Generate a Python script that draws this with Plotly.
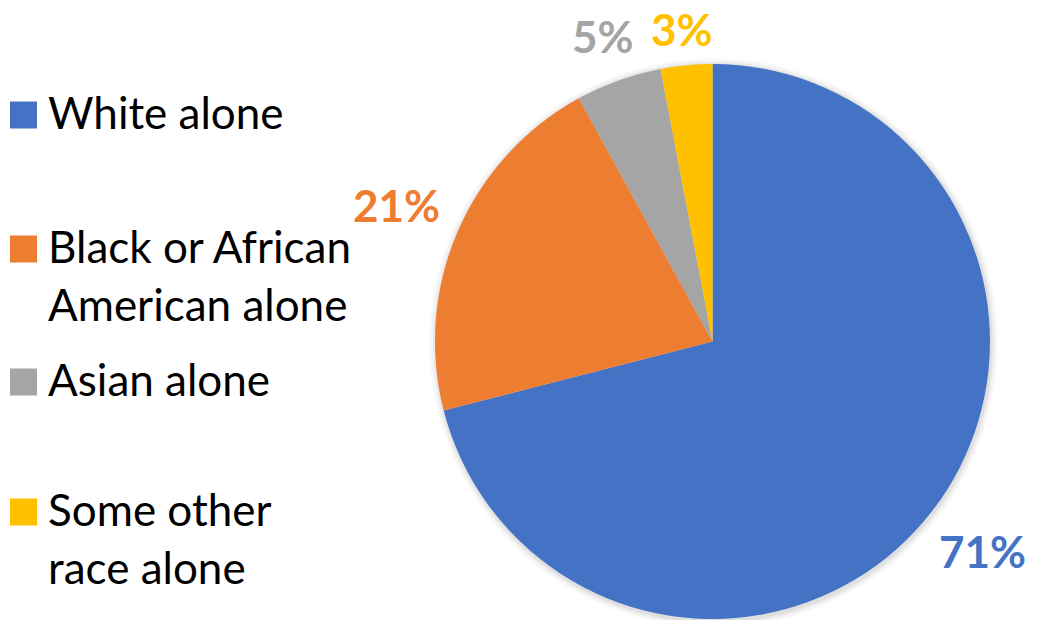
import math
import plotly.graph_objects as go

# Population share by race
categories = ["White alone", "Black or African American alone", "Asian alone", "Some other race alone"]
legend_text = ["White alone", "Black or African<br>American alone", "Asian alone", "Some other<br>race alone"]
shares = [71, 21, 5, 3]
colors = ["#4472C4", "#ED7D31", "#A5A5A5", "#FFC000"]

W, H = 1040, 620
FONT = "Lato"
FS = 44

# pie geometry in pixels
cx, cy, R = 712.5, 341.5, 277.5


def px(x):
    return x / W


def py(y):
    return 1 - y / H


fig = go.Figure()

fig.add_trace(go.Pie(
    labels=categories, values=shares, sort=False, direction="clockwise", rotation=0,
    marker=dict(colors=colors, line=dict(width=0)),
    textinfo="none", showlegend=False, hoverinfo="label+percent",
    domain=dict(x=[px(cx - R), px(cx + R)], y=[max(0, py(cy + R)), py(cy - R)]),
))

shapes = []
# soft shadow halo behind the pie
for k, op in [(7, 0.04), (5, 0.05), (3, 0.07), (1.5, 0.09)]:
    r = R + k
    shapes.append(dict(type="circle", xref="paper", yref="paper", layer="below",
                       x0=px(cx - r + 1), x1=px(cx + r + 1), y0=py(cy + r + 2), y1=py(cy - r + 1),
                       fillcolor="#7f7f7f", opacity=op, line=dict(width=0)))

# percentage labels outside each slice, kept inside the canvas
total = sum(shares)
cum = 0
annotations = []
half_box = 0.66 * FS
for v, c in zip(shares, colors):
    mid = (cum + v / 2) / total * 2 * math.pi
    cum += v
    s, co = math.sin(mid), -math.cos(mid)
    text = f"{v}%"
    hw = 0.30 * FS * len(text)
    hh = 0.34 * FS
    d = R + 24 + hw * abs(s) + hh * abs(co)
    lx = cx + d * s
    ly = min(max(cy + d * co, half_box), H - half_box)
    annotations.append(dict(
        x=px(lx), y=py(ly), xref="paper", yref="paper",
        text=f"<b>{text}</b>", showarrow=False, xanchor="center", yanchor="middle",
        font=dict(family=FONT, size=FS, color=c),
    ))

# legend drawn as squares with wrapped text
row_y = [113, 247, 380, 510]
line_step = 58
for lbl, c, y0 in zip(legend_text, colors, row_y):
    shapes.append(dict(type="rect", xref="paper", yref="paper",
                       x0=px(10), x1=px(37), y0=py(y0 + 15.5), y1=py(y0 - 11.5),
                       fillcolor=c, line=dict(width=0)))
    for i, line in enumerate(lbl.split("<br>")):
        annotations.append(dict(
            x=px(46), y=py(y0 - 1 + i * line_step), xref="paper", yref="paper",
            text=line, showarrow=False, xanchor="left", yanchor="middle",
            font=dict(family=FONT, size=FS, color="#000000"),
        ))

fig.update_layout(
    width=W, height=H, margin=dict(l=0, r=0, t=0, b=0),
    paper_bgcolor="white", plot_bgcolor="white",
    annotations=annotations, shapes=shapes, showlegend=False,
)

fig.write_html("out.html")
